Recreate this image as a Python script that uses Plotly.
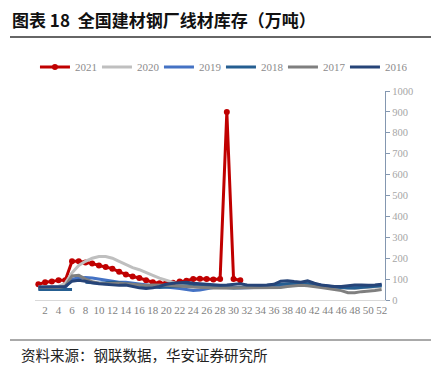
import plotly.graph_objects as go

weeks = list(range(1, 53))
tick_vals = list(range(2, 53, 2))
tick_text = [str(v) for v in tick_vals]

y2021 = [75, 85, 88, 95, 95, 185, 185, 180, 175, 165,
         158, 150, 135, 122, 112, 105, 95, 85, 80, 80,
         82, 88, 92, 100, 102, 100, 98, 100, 900, 100, 95]
y2020 = [62, 62, 62, 65, 80, 130, 165, 185, 200, 208,
         208, 200, 185, 168, 155, 145, 130, 118, 105, 95,
         85, 75, 70, 65, 62, 62, 60, 60, 58, 58,
         60, 62, 62, 62, 62, 62, 65, 68, 70, 72,
         70, 68, 65, 62, 60, 58, 55, 55, 58, 60, 62, 65]
y2019 = [55, 55, 55, 58, 60, 100, 105, 108, 105, 100,
         95, 90, 85, 85, 80, 75, 70, 68, 65, 60,
         58, 55, 50, 45, 48, 55, 60, 62, 62, 60,
         58, 58, 60, 62, 62, 65, 70, 72, 75, 78,
         78, 75, 70, 65, 62, 60, 60, 62, 65, 68, 70, 72]
y2018 = [50, 50, 50, 50, 50, 50, None,
         85, 82, 80, 82, 85, 82, 78, 72, 68, 65,
         62, 60, 62, 65, 68, 70, 70, 68, 65, 62,
         60, 60, 58, 60, 62, 65, 68, 70, 72, 75,
         78, 80, 82, 78, 75, 70, 65, 62, 60, 58,
         58, 60, 62, 65, 68]
y2017 = [60, 60, 60, 60, 65, 115, 118, 100, 88, 80,
         78, 80, 80, 78, 75, 72, 70, 72, 72, 70,
         68, 68, 65, 62, 60, 58, 58, 58, 58, 58,
         60, 60, 58, 58, 58, 58, 60, 65, 68, 70,
         68, 65, 60, 55, 50, 45, 35, 35, 40, 42, 45, 50]
y2016 = [62, 62, 62, 62, 65, 90, 95, 90, 82, 78,
         75, 72, 70, 72, 65, 58, 55, 58, 65, 75,
         80, 82, 85, 80, 78, 75, 72, 70, 72, 75,
         78, 72, 70, 70, 72, 75, 90, 92, 88, 85,
         92, 80, 72, 68, 65, 65, 70, 72, 72, 70, 72, 75]

series = [
    ("2021", y2021, "#c00000", True),
    ("2020", y2020, "#bfbfbf", False),
    ("2019", y2019, "#4472c4", False),
    ("2018", y2018, "#255e91", False),
    ("2017", y2017, "#7f7f7f", False),
    ("2016", y2016, "#264478", False),
]

fig = go.Figure()
for name, vals, color, markers in series:
    fig.add_trace(go.Scatter(
        x=weeks[:len(vals)], y=vals, name=name,
        mode="lines+markers" if markers else "lines",
        line=dict(color=color, width=3),
        marker=dict(size=6, color=color) if markers else None,
        connectgaps=False,
    ))

serif = "Liberation Serif"

def px_to_paper_x(px):
    return (px - 35) / 350

def px_to_paper_y(py):
    return (300 - py) / 209

fig.update_layout(
    width=439, height=365,
    margin=dict(l=27, r=62, t=83, b=73, autoexpand=False),
    plot_bgcolor="white", paper_bgcolor="white",
    showlegend=True,
    legend=dict(orientation="h", x=-0.0001, xanchor="left",
                y=px_to_paper_y(67), yanchor="middle",
                font=dict(family=serif, size=11, color="#8c8c8c"),
                entrywidth=17, entrywidthmode="pixels", itemwidth=30,
                tracegroupgap=0, bgcolor="rgba(0,0,0,0)"),
    xaxis=dict(range=[0.5, 52.5], tickmode="array", tickvals=tick_vals, ticktext=tick_text,
               tickangle=0, showgrid=False, zeroline=False, showline=True,
               linecolor="#d9d9d9", linewidth=1,
               ticks="", tickfont=dict(family=serif, size=11, color="#7f7f7f")),
    yaxis=dict(range=[0, 1000], dtick=100, side="right", showgrid=False, zeroline=False,
               showline=True, linecolor="#8497b0", linewidth=1.3, ticks="outside",
               ticklen=4, tickcolor="#8497b0",
               tickfont=dict(family=serif, size=10.5, color="#a6a6a6")),
    font=dict(family="Noto Sans CJK SC"),
)

fig.add_annotation(text="<b>图表 18  全国建材钢厂线材库存（万吨）</b>", xref="paper", yref="paper",
                   x=px_to_paper_x(10), y=px_to_paper_y(19),
                   xanchor="left", yanchor="middle", showarrow=False,
                   font=dict(family="Noto Sans CJK SC", size=17, color="#111111"))
fig.add_annotation(text="资料来源：钢联数据，华安证券研究所", xref="paper", yref="paper",
                   x=px_to_paper_x(19), y=px_to_paper_y(354), xanchor="left", yanchor="middle",
                   showarrow=False,
                   font=dict(family="Noto Sans CJK SC", size=14.5, color="#222222"))

fig.add_shape(type="line", xref="paper", yref="paper",
              x0=px_to_paper_x(10), x1=px_to_paper_x(439), y0=px_to_paper_y(37), y1=px_to_paper_y(37),
              line=dict(color="#333333", width=1.5))
fig.add_shape(type="line", xref="paper", yref="paper",
              x0=px_to_paper_x(10), x1=px_to_paper_x(439), y0=px_to_paper_y(340), y1=px_to_paper_y(340),
              line=dict(color="#555555", width=1))
fig.add_shape(type="line", xref="paper", yref="paper",
              x0=px_to_paper_x(436), x1=px_to_paper_x(436), y0=px_to_paper_y(14), y1=px_to_paper_y(26),
              line=dict(color="#555555", width=1))

fig.write_html("out.html")
